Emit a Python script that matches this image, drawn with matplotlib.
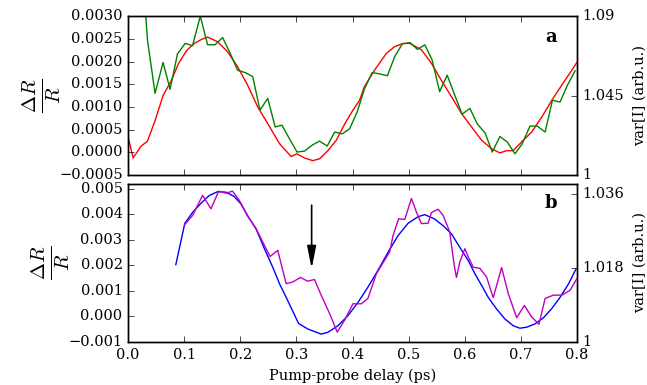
import numpy as np
import matplotlib
matplotlib.use("Agg")
import matplotlib.pyplot as plt
from matplotlib.ticker import FixedLocator, FixedFormatter

plt.style.use("classic")
plt.rcParams["font.family"] = "serif"
plt.rcParams["font.serif"] = ["DejaVu Serif"]
plt.rcParams["mathtext.fontset"] = "cm"
plt.rcParams["font.size"] = 10.5

# panel a: fit (dR/R) and var[I]
t_fit_a = [0.0, 0.009, 0.0227, 0.0345, 0.048, 0.0625, 0.076, 0.09, 0.104, 0.118, 0.131,
           0.1416, 0.159, 0.177, 0.195, 0.213, 0.231, 0.249, 0.27, 0.2905, 0.3006, 0.314,
           0.329, 0.341, 0.356, 0.371, 0.386, 0.4005, 0.4125, 0.421, 0.439, 0.46, 0.475,
           0.49, 0.502, 0.5226, 0.5405, 0.558, 0.576, 0.594, 0.612, 0.6297, 0.6477, 0.6625,
           0.6745, 0.686, 0.701, 0.719, 0.737, 0.755, 0.7725, 0.7905, 0.7995]
dr_fit_a = [0.00034, -0.00012, 0.000133, 0.00025, 0.0007, 0.00126, 0.00156, 0.00196, 0.00224,
            0.0024, 0.00249, 0.00254, 0.00244, 0.00222, 0.00189, 0.00148, 0.001, 0.00063,
            0.00019, -0.00009, -0.00003, -0.00012, -0.00018, -0.00014, 0.00004, 0.00027,
            0.00063, 0.00093, 0.00115, 0.00145, 0.00181, 0.00218, 0.00233, 0.0024, 0.0024,
            0.00226, 0.00196, 0.00159, 0.00123, 0.00086, 0.00056, 0.00027, 0.00008, -0.00001,
            0.00004, 0.00004, 0.00023, 0.00045, 0.00078, 0.00115, 0.00148, 0.00181, 0.00198]

t_var_a = [0.021, 0.0345, 0.048, 0.0623, 0.0748, 0.088, 0.1018, 0.1148, 0.1286, 0.1416,
           0.1548, 0.1684, 0.182, 0.195, 0.2084, 0.222, 0.235, 0.2488, 0.262, 0.274, 0.2875,
           0.301, 0.314, 0.328, 0.341, 0.3548, 0.3679, 0.3816, 0.3946, 0.408, 0.4214, 0.435,
           0.448, 0.462, 0.475, 0.4886, 0.502, 0.5155, 0.5286, 0.5416, 0.555, 0.5685, 0.582,
           0.595, 0.609, 0.622, 0.636, 0.6488, 0.6625, 0.6755, 0.6893, 0.702, 0.716, 0.729,
           0.743, 0.756, 0.7696, 0.7827, 0.7964]
var_a = [1.136, 1.0766, 1.0463, 1.0638, 1.0486, 1.0687, 1.0746, 1.0733, 1.09, 1.0738,
         1.0738, 1.0779, 1.0689, 1.0594, 1.0581, 1.0558, 1.0368, 1.0435, 1.0273, 1.0283,
         1.0206, 1.0131, 1.0136, 1.017, 1.0193, 1.0165, 1.0244, 1.0234, 1.0262, 1.0357,
         1.0491, 1.0581, 1.0573, 1.0563, 1.0671, 1.0743, 1.0751, 1.0712, 1.0738, 1.0653,
         1.0473, 1.0566, 1.0453, 1.0345, 1.0378, 1.0291, 1.0239, 1.0131, 1.0219, 1.0188,
         1.0121, 1.0177, 1.0278, 1.0278, 1.0244, 1.0424, 1.0414, 1.0509, 1.0591]

# panel b
t_fit_b = [0.085, 0.101, 0.115, 0.13, 0.1446, 0.1595, 0.1745, 0.189, 0.201, 0.213, 0.228,
           0.243, 0.2577, 0.27, 0.2816, 0.3036, 0.32, 0.344, 0.356, 0.374, 0.3916, 0.4095,
           0.427, 0.445, 0.463, 0.481, 0.4988, 0.5166, 0.5286, 0.546, 0.561, 0.576, 0.591,
           0.606, 0.618, 0.63, 0.6416, 0.6566, 0.6714, 0.686, 0.698, 0.71, 0.725, 0.74,
           0.7548, 0.7696, 0.7845, 0.798]
dr_fit_b = [0.00203, 0.00365, 0.00408, 0.00444, 0.00474, 0.00489, 0.00487, 0.0047, 0.00441,
            0.00395, 0.00343, 0.00265, 0.00193, 0.00127, 0.00075, -0.00027, -0.00049,
            -0.00069, -0.00062, -0.00036, 0.00003, 0.00055, 0.00114, 0.0018, 0.00251,
            0.00317, 0.00365, 0.00391, 0.00399, 0.00382, 0.00356, 0.00324, 0.00271, 0.00219,
            0.00167, 0.00121, 0.00075, 0.00029, -0.0001, -0.00036, -0.00046, -0.00042,
            -0.00029, -0.00005, 0.00031, 0.00075, 0.00127, 0.00186]

t_var_b = [0.101, 0.115, 0.1327, 0.1477, 0.1613, 0.1745, 0.186, 0.198, 0.213, 0.228, 0.24,
           0.253, 0.2666, 0.2816, 0.2934, 0.307, 0.32, 0.332, 0.344, 0.359, 0.3726, 0.3857,
           0.4005, 0.4155, 0.4273, 0.4423, 0.457, 0.466, 0.472, 0.482, 0.4929, 0.5048, 0.5137,
           0.5226, 0.5345, 0.5405, 0.5523, 0.5613, 0.573, 0.581, 0.585, 0.591, 0.6, 0.606,
           0.615, 0.627, 0.6387, 0.6505, 0.6655, 0.6773, 0.6923, 0.706, 0.719, 0.732, 0.743,
           0.7577, 0.7727, 0.7875, 0.7995]
var_b = [1.0286, 1.0308, 1.0357, 1.0324, 1.0367, 1.0362, 1.0367, 1.0345, 1.0306, 1.0276,
         1.0243, 1.0208, 1.0223, 1.0142, 1.0146, 1.0157, 1.0148, 1.0152, 1.0114, 1.0069,
         1.0024, 1.0053, 1.0093, 1.0093, 1.0106, 1.0166, 1.0199, 1.0219, 1.0259, 1.03,
         1.0298, 1.0349, 1.0316, 1.0288, 1.0289, 1.0315, 1.0323, 1.0308, 1.0268, 1.0187,
         1.0157, 1.0195, 1.0227, 1.0207, 1.0182, 1.0179, 1.0158, 1.0108, 1.0181, 1.0118,
         1.0059, 1.0089, 1.0061, 1.0043, 1.0106, 1.0114, 1.0114, 1.0126, 1.0154]

fig = plt.figure(figsize=(6.47, 3.85), dpi=100, facecolor="white")

ax1 = fig.add_axes([0.198, 0.545, 0.694, 0.413])
ax1.plot(t_fit_a, dr_fit_a, color="r")
ax1.set_xlim(0, 0.8)
ax1.set_ylim(-0.0005, 0.003)
ax1.set_xticklabels([])
ax1.set_ylabel(r"$\frac{\Delta R}{R}$", fontsize=21, labelpad=-2)
ax1.text(0.942, 0.87, "a", transform=ax1.transAxes, fontweight="bold",
         ha="center", va="center", fontsize=13)
ax1r = ax1.twinx()
ax1r.plot(t_var_a, var_a, color="g")
ax1r.set_xlim(0, 0.8)
ax1r.set_ylim(1.0, 1.09)
ax1r.yaxis.set_major_locator(FixedLocator([1.0, 1.045, 1.09]))
ax1r.yaxis.set_major_formatter(FixedFormatter(["1", "1.045", "1.09"]))
ax1r.set_ylabel("var[I] (arb.u.)", labelpad=6)

ax2 = fig.add_axes([0.198, 0.1117, 0.694, 0.411])
ax2.plot(t_fit_b, dr_fit_b, color="b")
ax2.set_xlim(0, 0.8)
ax2.set_ylim(-0.001, 0.0052)
ax2.set_yticks([-0.001, 0.0, 0.001, 0.002, 0.003, 0.004, 0.005])
ax2.set_ylabel(r"$\frac{\Delta R}{R}$", fontsize=21, labelpad=-2)
ax2.set_xlabel("Pump-probe delay (ps)")
ax2.text(0.942, 0.88, "b", transform=ax2.transAxes, fontweight="bold",
         ha="center", va="center", fontsize=13)
ax2.annotate("", xy=(0.327, 0.00177), xytext=(0.327, 0.00447),
             arrowprops=dict(arrowstyle="-|>,head_length=0.9,head_width=0.18",
                             color="k", lw=1.2, mutation_scale=15))
ax2r = ax2.twinx()
ax2r.plot(t_var_b, var_b, color="m")
ax2r.set_xlim(0, 0.8)
ax2r.set_ylim(1.0, 1.0385)
ax2r.yaxis.set_major_locator(FixedLocator([1.0, 1.018, 1.036]))
ax2r.yaxis.set_major_formatter(FixedFormatter(["1", "1.018", "1.036"]))
ax2r.set_ylabel("var[I] (arb.u.)", labelpad=6)

for a in (ax1, ax2):
    a.yaxis.get_major_formatter().set_useOffset(False)

fig.savefig("out.png", dpi=100, facecolor="white")
